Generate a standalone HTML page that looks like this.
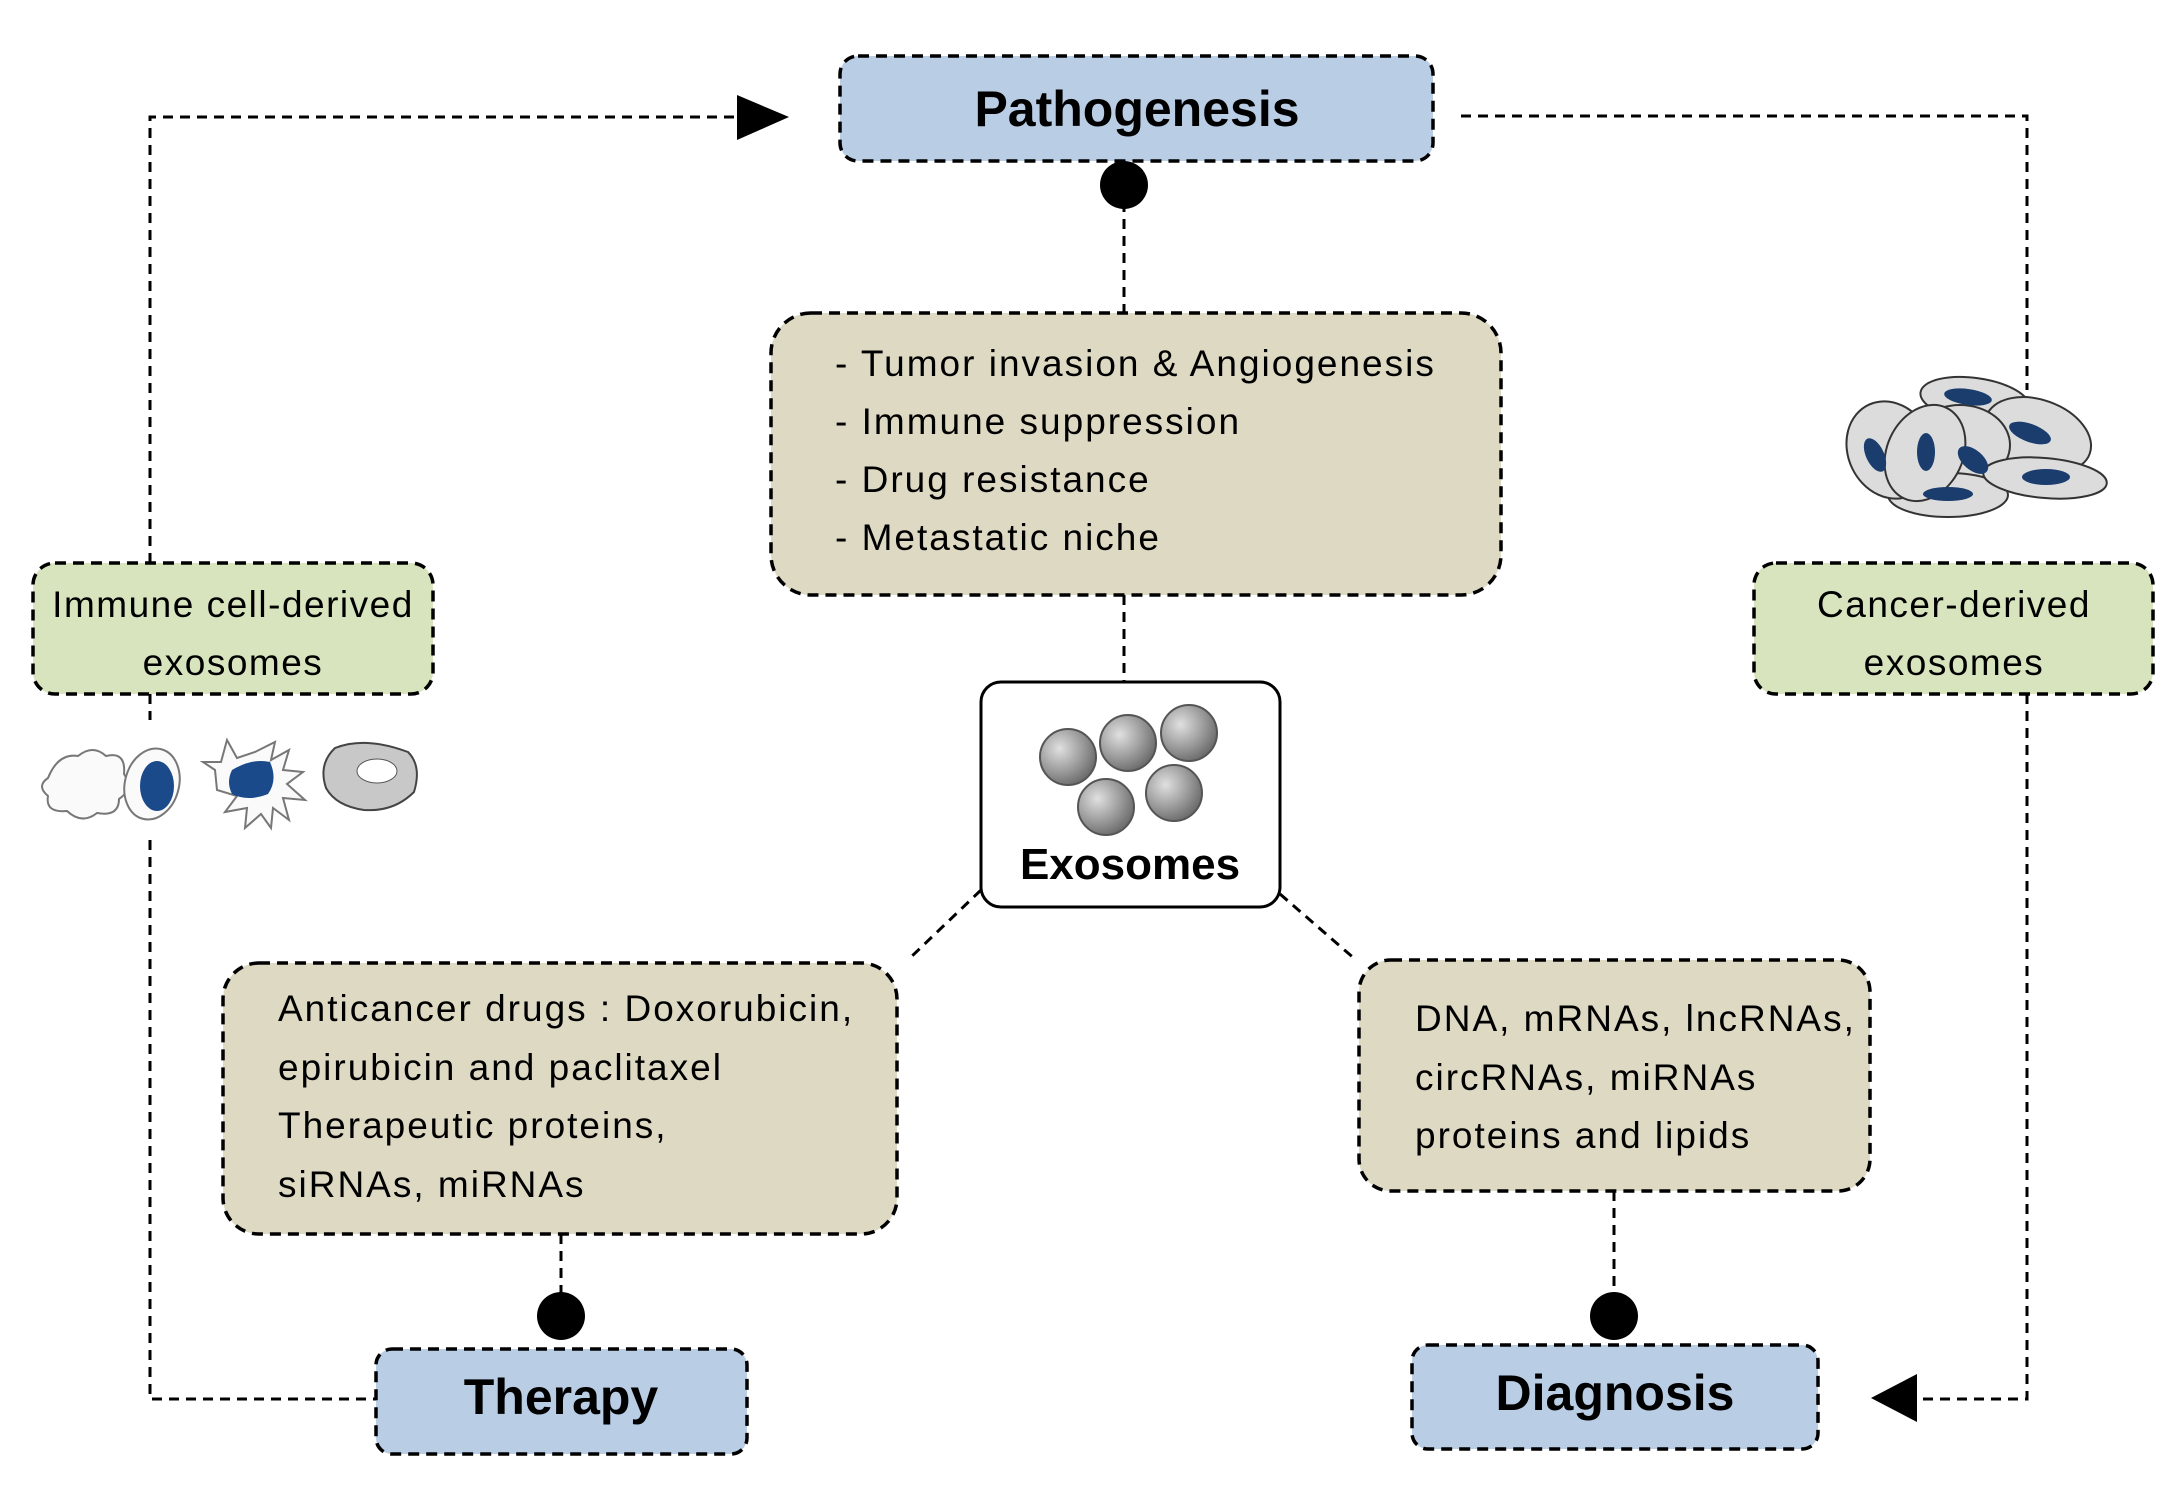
<!DOCTYPE html>
<html><head><meta charset="utf-8"><style>
html,body{margin:0;padding:0;background:#fff;}
svg{display:block;font-family:"Liberation Sans",sans-serif;}
</style></head><body>
<svg width="2181" height="1493" viewBox="0 0 2181 1493" xmlns="http://www.w3.org/2000/svg">
<defs>
<radialGradient id="sp" cx="35%" cy="35%" r="70%"><stop offset="0" stop-color="#e0e0e0"/><stop offset="0.6" stop-color="#9a9a9a"/><stop offset="1" stop-color="#6a6a6a"/></radialGradient>
</defs>
<g stroke="#000" stroke-width="3" stroke-dasharray="10,7" fill="none">
<polyline points="150,563 150,117 737,117"/>
<polyline points="150,694 150,720"/>
<polyline points="150,840 150,1399 376,1399"/>
<polyline points="1461,116 2027,116 2027,390"/>
<polyline points="2027,694 2027,1399 1917,1399"/>
<line x1="1124" y1="185" x2="1124" y2="313"/>
<line x1="1124" y1="595" x2="1124" y2="682"/>
<line x1="981" y1="890" x2="911" y2="957"/>
<line x1="1280" y1="894" x2="1356" y2="960"/>
<line x1="561" y1="1234" x2="561" y2="1316"/>
<line x1="1614" y1="1191" x2="1614" y2="1316"/>
</g>
<polygon points="737,95 789,117 737,140" fill="#000"/>
<polygon points="1871,1398 1917,1374 1917,1422" fill="#000"/>
<circle cx="1124" cy="185" r="24" fill="#000"/>
<circle cx="561" cy="1316" r="24" fill="#000"/>
<circle cx="1614" cy="1316" r="24" fill="#000"/>
<g stroke="#000" stroke-width="3.5" stroke-dasharray="11,7">
<rect x="840" y="56" width="593" height="105" rx="18" fill="#b9cde5"/>
<rect x="376" y="1349" width="371" height="105" rx="16" fill="#b9cde5"/>
<rect x="1412" y="1345" width="406" height="104" rx="16" fill="#b9cde5"/>
<rect x="771" y="313" width="730" height="282" rx="40" fill="#ddd9c3"/>
<rect x="223" y="963" width="674" height="271" rx="36" fill="#ddd9c3"/>
<rect x="1359" y="960" width="511" height="231" rx="32" fill="#ddd9c3"/>
<rect x="33" y="563" width="400" height="131" rx="22" fill="#d7e4bd"/>
<rect x="1754" y="563" width="399" height="131" rx="22" fill="#d7e4bd"/>
</g>
<rect x="981" y="682" width="299" height="225" rx="20" fill="#fff" stroke="#000" stroke-width="3"/>
<g fill="url(#sp)" stroke="#555" stroke-width="2">
<circle cx="1068" cy="757" r="28"/><circle cx="1128" cy="743" r="28"/><circle cx="1189" cy="733" r="28"/>
<circle cx="1106" cy="807" r="28"/><circle cx="1174" cy="793" r="28"/>
</g>
<g font-weight="bold" text-anchor="middle" fill="#000">
<text x="1137" y="126" font-size="50">Pathogenesis</text>
<text x="561" y="1414" font-size="50">Therapy</text>
<text x="1615" y="1410" font-size="50">Diagnosis</text>
<text x="1130" y="879" font-size="44">Exosomes</text>
</g>
<g font-size="37" fill="#000" letter-spacing="2">
<text x="835" y="376">- Tumor invasion &amp; Angiogenesis</text>
<text x="835" y="434">- Immune suppression</text>
<text x="835" y="492">- Drug resistance</text>
<text x="835" y="550">- Metastatic niche</text>
<text x="278" y="1021">Anticancer drugs : Doxorubicin,</text>
<text x="278" y="1080">epirubicin and paclitaxel</text>
<text x="278" y="1138">Therapeutic proteins,</text>
<text x="278" y="1197">siRNAs, miRNAs</text>
<text x="1415" y="1031">DNA, mRNAs, lncRNAs,</text>
<text x="1415" y="1090">circRNAs, miRNAs</text>
<text x="1415" y="1148">proteins and lipids</text>
</g>
<g font-size="37" fill="#000" text-anchor="middle" letter-spacing="1.5">
<text x="233" y="617">Immune cell-derived</text>
<text x="233" y="675">exosomes</text>
<text x="1954" y="617">Cancer-derived</text>
<text x="1954" y="675">exosomes</text>
</g>
<g stroke="#333" stroke-width="2" fill="#dcdcdc">
<ellipse cx="1975" cy="400" rx="55" ry="22" transform="rotate(8 1975 400)"/>
<ellipse cx="2038" cy="435" rx="55" ry="35" transform="rotate(20 2038 435)"/>
<ellipse cx="1960" cy="445" rx="50" ry="40"/>
<ellipse cx="1948" cy="495" rx="60" ry="22"/>
<ellipse cx="1890" cy="450" rx="42" ry="50" transform="rotate(-25 1890 450)"/>
<ellipse cx="2045" cy="478" rx="62" ry="20" transform="rotate(5 2045 478)"/>
<ellipse cx="1925" cy="453" rx="38" ry="50" transform="rotate(25 1925 453)"/>
</g>
<g fill="#1b3d6e">
<ellipse cx="1968" cy="397" rx="24" ry="8" transform="rotate(8 1968 397)"/>
<ellipse cx="2030" cy="433" rx="22" ry="9" transform="rotate(20 2030 433)"/>
<ellipse cx="1973" cy="460" rx="18" ry="10" transform="rotate(40 1973 460)"/>
<ellipse cx="1948" cy="494" rx="25" ry="7"/>
<ellipse cx="1875" cy="455" rx="9" ry="18" transform="rotate(-25 1875 455)"/>
<ellipse cx="2046" cy="477" rx="24" ry="8"/>
<ellipse cx="1926" cy="452" rx="9" ry="19"/>
</g>
<g stroke="#777" stroke-width="2" fill="#fafafa">
<path d="M48,778 q10,-25 30,-22 q15,-12 28,0 q20,-5 18,18 q10,15 -5,25 q0,18 -22,14 q-15,12 -30,-2 q-22,2 -19,-15 q-12,-10 0,-18z"/>
<ellipse cx="152" cy="784" rx="27" ry="36" transform="rotate(15 152 784)"/>
<path d="M215,770 l-12,-8 l18,0 l6,-22 l10,18 l18,-6 l20,-10 l-4,18 l18,-10 l-6,20 l20,2 l-16,12 l18,16 l-22,-2 l6,22 l-16,-12 l-2,20 l-10,-14 l-16,14 l2,-20 l-22,4 l12,-16 l-20,-6z"/>
<path d="M335,748 q30,-12 73,4 q14,14 6,40 q-20,20 -50,18 q-28,-4 -38,-22 q-8,-24 9,-40z" fill="#c8c8c8" stroke="#444"/>
</g>
<ellipse cx="157" cy="786" rx="17" ry="25" fill="#1b4a8a"/>
<path d="M232,770 q20,-12 38,-8 q8,18 -2,32 q-20,8 -36,0 q-6,-12 0,-24z" fill="#1b4a8a"/>
<ellipse cx="377" cy="771" rx="20" ry="12" fill="#fff" stroke="#555"/>
</svg>
</body></html>
